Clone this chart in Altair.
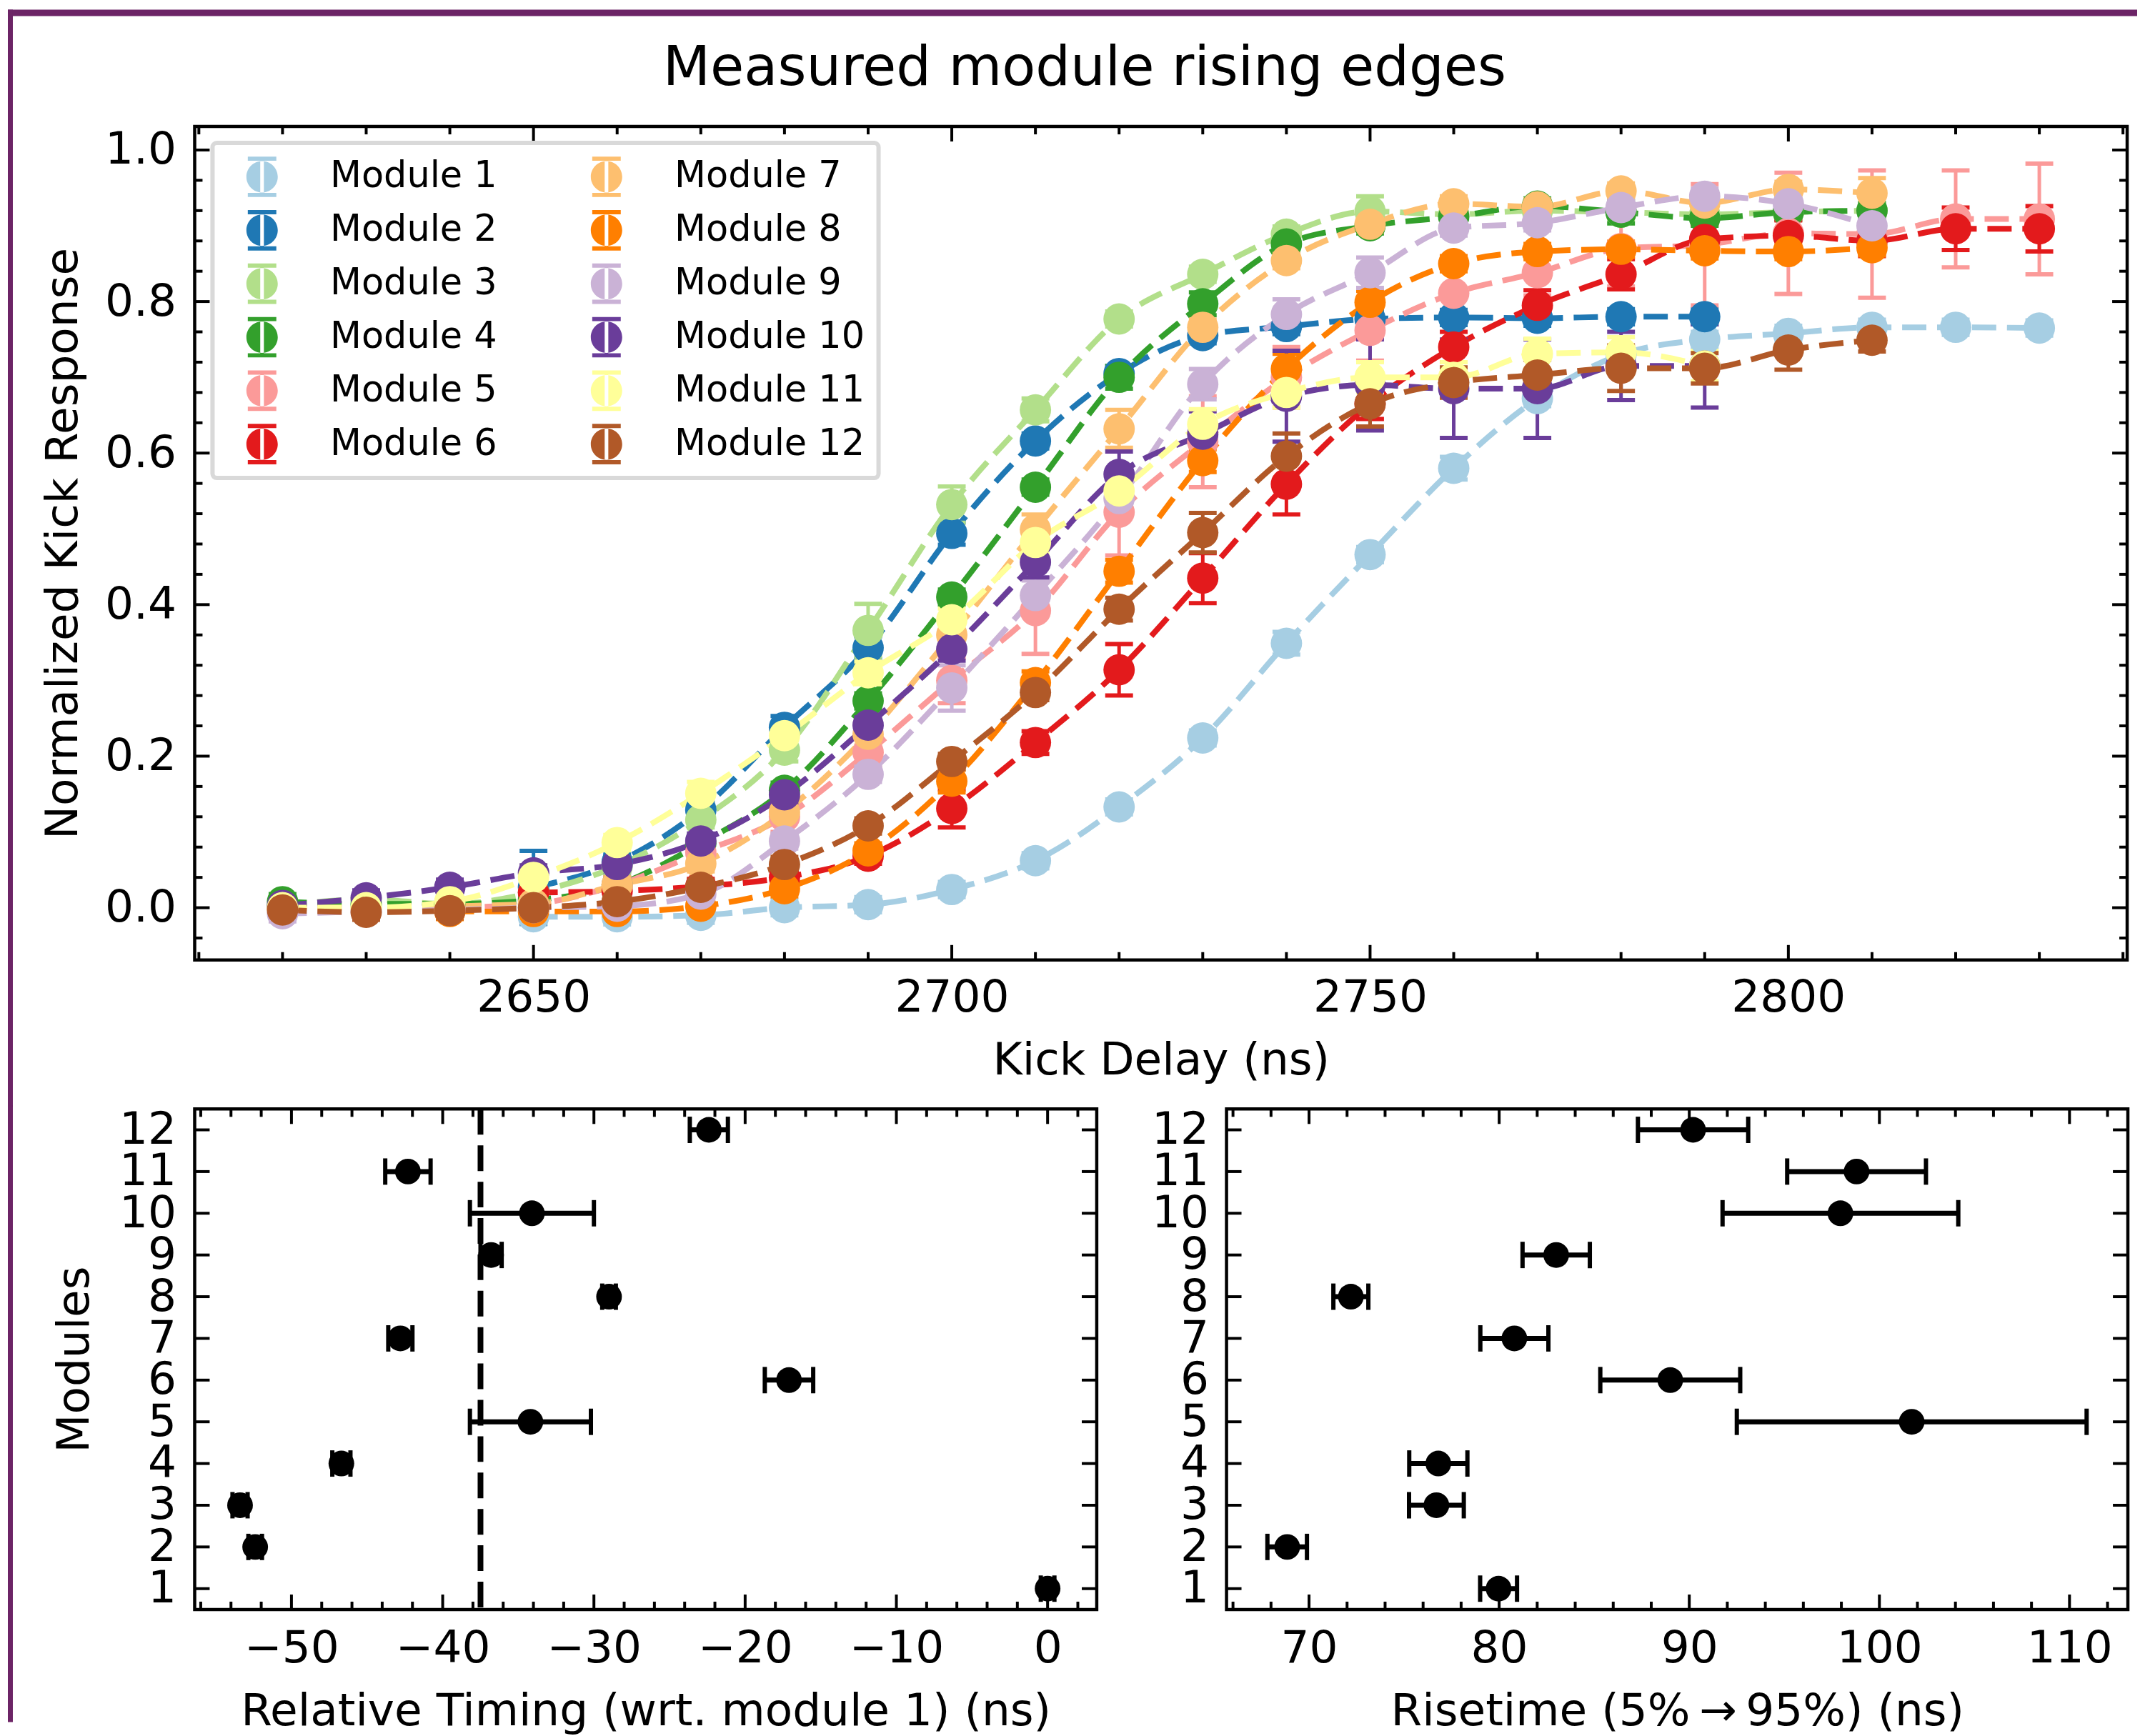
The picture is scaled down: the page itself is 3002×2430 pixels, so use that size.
import altair as alt
import pandas as pd

# ---------------- data ----------------
DELAY_NS = [2620, 2630, 2640, 2650, 2660, 2670, 2680, 2690, 2700, 2710, 2720,
            2730, 2740, 2750, 2760, 2770, 2780, 2790, 2800, 2810, 2820, 2830]
MODULES = ["Module 1", "Module 2", "Module 3", "Module 4", "Module 5", "Module 6",
           "Module 7", "Module 8", "Module 9", "Module 10", "Module 11", "Module 12"]
PAIRED = ["#a6cee3", "#1f78b4", "#b2df8a", "#33a02c", "#fb9a99", "#e31a1c",
          "#fdbf6f", "#ff7f00", "#cab2d6", "#6a3d9a", "#ffff99", "#b15928"]
TITLE = ["Measured module rising edges"]

RESP_M1 = [None, None, None, -0.012, -0.012, -0.01, 0.0, 0.004, 0.024, 0.062, 0.133,
           0.224, 0.349, 0.466, 0.580, 0.672, 0.730, 0.750, 0.758, 0.766, 0.766, 0.765]
RESP_M2 = [None, None, None, 0.027, 0.06, 0.129, 0.238, 0.343, 0.494, 0.616, 0.705,
           0.755, 0.767, 0.777, 0.779, 0.778, 0.780, 0.780, None, None, None, None]
RESP_M3 = [0.003, 0.011, 0.005, 0.02, 0.055, 0.116, 0.208, 0.366, 0.532, 0.657, 0.777,
           0.836, 0.889, 0.919, 0.915, 0.920, 0.918, 0.915, 0.918, 0.920, None, None]
RESP_M4 = [0.008, 0.005, 0.005, 0.01, 0.03, 0.085, 0.155, 0.273, 0.410, 0.555, 0.700,
           0.797, 0.876, 0.900, 0.912, 0.926, 0.918, 0.910, 0.918, 0.920, None, None]
RESP_M5 = [None, None, 0.0, 0.005, 0.03, 0.073, 0.12, 0.205, 0.30, 0.392, 0.522,
           0.615, 0.70, 0.762, 0.811, 0.838, 0.87, 0.875, 0.89, 0.889, 0.909, 0.909]
RESP_M6 = [None, None, None, 0.02, 0.022, 0.028, 0.04, 0.068, 0.131, 0.218, 0.314,
           0.435, 0.559, 0.665, 0.740, 0.795, 0.836, 0.882, 0.887, 0.88, 0.896, 0.896]
RESP_M7 = [0.0, 0.0, 0.002, 0.005, 0.03, 0.058, 0.126, 0.229, 0.36, 0.499, 0.632,
           0.766, 0.854, 0.902, 0.929, 0.925, 0.946, 0.93, 0.948, 0.943, None, None]
RESP_M8 = [None, None, -0.005, -0.005, -0.005, 0.002, 0.025, 0.075, 0.167, 0.297, 0.444,
           0.590, 0.711, 0.799, 0.850, 0.866, 0.869, 0.867, 0.866, 0.871, None, None]
RESP_M9 = [-0.008, -0.005, -0.003, 0.0, 0.002, 0.018, 0.088, 0.176, 0.290, 0.412, 0.54,
           0.691, 0.783, 0.838, 0.897, 0.904, 0.924, 0.939, 0.929, 0.900, None, None]
RESP_M10 = [0.003, 0.013, 0.027, 0.046, 0.057, 0.088, 0.149, 0.241, 0.341, 0.456, 0.572,
            0.625, 0.675, 0.69, 0.685, 0.685, 0.715, 0.715, None, None, None, None]
RESP_M11 = [0.0, 0.0, 0.008, 0.04, 0.086, 0.151, 0.227, 0.310, 0.380, 0.482, 0.550,
            0.638, 0.680, 0.700, 0.70, 0.731, 0.733, 0.715, None, None, None, None]
RESP_M12 = [-0.003, -0.006, -0.004, 0.0, 0.008, 0.027, 0.057, 0.108, 0.193, 0.284, 0.394,
            0.495, 0.596, 0.665, 0.693, 0.703, 0.712, 0.712, 0.736, 0.749, None, None]

ERR_M1 = [None, None, None, 0.01, 0.01, 0.01, 0.01, 0.01, 0.01, 0.01, 0.01,
          0.01, 0.015, 0.01, 0.015, 0.01, 0.01, 0.01, 0.01, 0.01, 0.01, 0.01]
ERR_M2 = [None, None, None, 0.048, 0.01, 0.01, 0.015, 0.015, 0.015, 0.01, 0.01,
          0.01, 0.01, 0.01, 0.01, 0.01, 0.01, 0.01, None, None, None, None]
ERR_M3 = [0.01, 0.01, 0.01, 0.01, 0.01, 0.01, 0.015, 0.035, 0.024, 0.015, 0.01,
          0.01, 0.01, 0.02, 0.01, 0.01, 0.01, 0.01, 0.01, 0.01, None, None]
ERR_M4 = [0.01, 0.01, 0.01, 0.01, 0.01, 0.01, 0.01, 0.01, 0.01, 0.01, 0.015,
          0.015, 0.01, 0.01, 0.01, 0.01, 0.015, 0.01, 0.01, 0.01, None, None]
ERR_M5 = [None, None, 0.01, 0.01, 0.01, 0.015, 0.02, 0.02, 0.03, 0.057, 0.057,
          0.06, 0.04, 0.04, 0.03, 0.03, 0.05, 0.08, 0.08, 0.084, 0.064, 0.073]
ERR_M6 = [None, None, None, 0.01, 0.01, 0.01, 0.01, 0.01, 0.025, 0.015, 0.034,
          0.033, 0.04, 0.02, 0.02, 0.02, 0.02, 0.02, 0.02, 0.02, 0.028, 0.03]
ERR_M7 = [0.01, 0.01, 0.01, 0.01, 0.01, 0.01, 0.01, 0.015, 0.015, 0.02, 0.025,
          0.01, 0.01, 0.01, 0.01, 0.01, 0.01, 0.015, 0.01, 0.02, None, None]
ERR_M8 = [None, None, 0.01, 0.01, 0.01, 0.01, 0.01, 0.01, 0.015, 0.015, 0.015,
          0.015, 0.02, 0.015, 0.01, 0.01, 0.01, 0.01, 0.01, 0.01, None, None]
ERR_M9 = [0.01, 0.01, 0.01, 0.01, 0.01, 0.01, 0.01, 0.01, 0.03, 0.02, 0.02,
          0.02, 0.02, 0.02, 0.01, 0.01, 0.01, 0.01, 0.01, 0.01, None, None]
ERR_M10 = [0.01, 0.01, 0.01, 0.01, 0.01, 0.01, 0.01, 0.01, 0.015, 0.02, 0.03,
           0.03, 0.06, 0.06, 0.065, 0.065, 0.045, 0.055, None, None, None, None]
ERR_M11 = [0.01, 0.01, 0.01, 0.01, 0.01, 0.015, 0.015, 0.015, 0.015, 0.015, 0.015,
           0.02, 0.02, 0.02, 0.02, 0.02, 0.02, 0.02, None, None, None, None]
ERR_M12 = [0.01, 0.01, 0.01, 0.01, 0.01, 0.01, 0.01, 0.01, 0.01, 0.01, 0.015,
           0.026, 0.03, 0.03, 0.02, 0.02, 0.03, 0.02, 0.026, 0.015, None, None]

MODULE_IDS = [1, 2, 3, 4, 5, 6, 7, 8, 9, 10, 11, 12]
TIMING = [0.0, -52.4, -53.4, -46.7, -34.2, -17.1, -42.8, -29.0, -36.8, -34.1, -42.3, -22.4]
TIMING_ERR = [0.45, 0.45, 0.5, 0.6, 4.0, 1.6, 0.8, 0.45, 0.7, 4.1, 1.5, 1.26]
RISETIME = [79.97, 68.85, 76.7, 76.8, 101.7, 89.0, 80.8, 72.2, 83.0, 97.95, 98.8, 90.2]
RISETIME_ERR = [0.97, 1.04, 1.44, 1.53, 9.2, 3.68, 1.79, 0.92, 1.77, 6.2, 3.65, 2.9]
TIMING_REF = [-37.5]

# tick positions
TOP_X_MAJOR = [2650, 2700, 2750, 2800]
TOP_X_MINOR = [2610, 2620, 2630, 2640, 2660, 2670, 2680, 2690, 2710, 2720, 2730, 2740,
               2760, 2770, 2780, 2790, 2810, 2820, 2830, 2840]
TOP_Y_MAJOR = [0.0, 0.2, 0.4, 0.6, 0.8, 1.0]
TOP_Y_MINOR = [-0.04, 0.04, 0.08, 0.12, 0.16, 0.24, 0.28, 0.32, 0.36, 0.44, 0.48, 0.52,
               0.56, 0.64, 0.68, 0.72, 0.76, 0.84, 0.88, 0.92, 0.96]
BL_X_MAJOR = [-50, -40, -30, -20, -10, 0]
BL_X_MINOR = [-56, -54, -52, -48, -46, -44, -42, -38, -36, -34, -32, -28, -26, -24,
              -22, -18, -16, -14, -12, -8, -6, -4, -2, 2]
BR_X_MAJOR = [70, 80, 90, 100, 110]
BR_X_MINOR = [66, 68, 72, 74, 76, 78, 82, 84, 86, 88, 92, 94, 96, 98, 102, 104, 106, 108, 112]

RESP = [RESP_M1, RESP_M2, RESP_M3, RESP_M4, RESP_M5, RESP_M6,
        RESP_M7, RESP_M8, RESP_M9, RESP_M10, RESP_M11, RESP_M12]
ERRS = [ERR_M1, ERR_M2, ERR_M3, ERR_M4, ERR_M5, ERR_M6,
        ERR_M7, ERR_M8, ERR_M9, ERR_M10, ERR_M11, ERR_M12]

rows = []
for i, (vals, errs) in enumerate(zip(RESP, ERRS)):
    for x, v, e in zip(DELAY_NS, vals, errs):
        if v is None:
            continue
        rows.append({"module": MODULES[i], "idx": i + 1, "delay": x, "resp": v,
                     "lo": v - e, "hi": v + e})
df = pd.DataFrame(rows)

bdf = pd.DataFrame({"module": MODULE_IDS, "t": TIMING, "r": RISETIME})
bdf["t_lo"] = [t - e for t, e in zip(TIMING, TIMING_ERR)]
bdf["t_hi"] = [t + e for t, e in zip(TIMING, TIMING_ERR)]
bdf["r_lo"] = [r - e for r, e in zip(RISETIME, RISETIME_ERR)]
bdf["r_hi"] = [r + e for r, e in zip(RISETIME, RISETIME_ERR)]

FRAME = "#6c2466"
FS = 63
# legend glyph: marker with error-bar caps (unit square -1..1)
ERRBAR_GLYPH = ("M -0.775 0 A 0.775 0.775 0 1 0 0.775 0 A 0.775 0.775 0 1 0 -0.775 0 Z "
                "M -0.704 -1 L 0.704 -1 L 0.704 -0.79 L -0.704 -0.79 Z "
                "M -0.704 0.79 L 0.704 0.79 L 0.704 1 L -0.704 1 Z "
                "M -0.09 -0.8 L 0.09 -0.8 L 0.09 0.8 L -0.09 0.8 Z")

def frame_ticks(values, channel, scale, axis, W, H, length):
    c = alt.Chart(pd.DataFrame({"v": values}))
    m = dict(color="black", strokeWidth=4)
    if channel == "x":
        enc = alt.X("v:Q", scale=scale, axis=axis)
        return [c.mark_rule(**m).encode(x=enc, y=alt.value(H), y2=alt.value(H - length)),
                c.mark_rule(**m).encode(x=enc, y=alt.value(0), y2=alt.value(length))]
    enc = alt.Y("v:Q", scale=scale, axis=axis)
    return [c.mark_rule(**m).encode(y=enc, x=alt.value(0), x2=alt.value(length)),
            c.mark_rule(**m).encode(y=enc, x=alt.value(W), x2=alt.value(W - length))]

def band(x0, x1, y0, y1):
    return alt.Chart(pd.DataFrame({"k": [0]})).mark_rect(color=FRAME).encode(
        x=alt.value(x0), x2=alt.value(x1), y=alt.value(y0), y2=alt.value(y1))

# ---------------- top panel ----------------
TW, TH = 2710, 1169
xs = alt.Scale(domain=[2609.5, 2840.5], nice=False, zero=False)
ys = alt.Scale(domain=[-0.069, 1.031], nice=False, zero=False)
cs = alt.Scale(domain=MODULES, range=PAIRED)
TOP_XAX = alt.Axis(values=TOP_X_MAJOR, format="d", title="Kick Delay (ns)",
                   labelPadding=22, titlePadding=25)
TOP_YAX = alt.Axis(values=TOP_Y_MAJOR, format=".1f", title="Normalized Kick Response",
                   labelPadding=26, titlePadding=26)

base = alt.Chart(df)
layers = [band(-262, 2724, -164, -155), band(-262, -255, -164, 1375)]
layers.append(alt.Chart(pd.DataFrame({"title": TITLE})).mark_text(
    fontSize=77, font="DejaVu Sans", align="center", baseline="alphabetic", color="black"
).encode(text="title:N", x=alt.value(1248), y=alt.value(-58)))
for i, name in enumerate(MODULES):
    sub = base.transform_filter(alt.datum.module == name)
    col = PAIRED[i]
    X = alt.X("delay:Q", scale=xs, axis=TOP_XAX)
    layers.append(sub.mark_rule(color=col, strokeWidth=5).encode(
        x=X, y=alt.Y("lo:Q", scale=ys, axis=TOP_YAX), y2="hi:Q"))
    layers.append(sub.mark_tick(color=col, orient="horizontal", size=39, thickness=6,
                                opacity=1).encode(
        x=X, y=alt.Y("lo:Q", scale=ys, axis=TOP_YAX)))
    layers.append(sub.mark_tick(color=col, orient="horizontal", size=39, thickness=6,
                                opacity=1).encode(
        x=X, y=alt.Y("hi:Q", scale=ys, axis=TOP_YAX)))
    layers.append(sub.mark_line(color=col, strokeWidth=8, strokeDash=[34, 15],
                                interpolate="monotone").encode(
        x=X, y=alt.Y("resp:Q", scale=ys, axis=TOP_YAX)))

points = base.mark_point(filled=True, size=1936, opacity=1, strokeWidth=0).encode(
    x=alt.X("delay:Q", scale=xs, axis=TOP_XAX),
    y=alt.Y("resp:Q", scale=ys, axis=TOP_YAX),
    color=alt.Color("module:N", scale=cs,
                    legend=alt.Legend(title=None, orient="none", legendX=25, legendY=23,
                                      values=MODULES, columns=2,
                                      symbolType=ERRBAR_GLYPH, symbolSize=3226,
                                      symbolStrokeWidth=0, symbolOpacity=1,
                                      labelFontSize=51, labelColor="black", labelLimit=0,
                                      padding=19, symbolOffset=22, labelOffset=67,
                                      rowPadding=18, columnPadding=102,
                                      fillColor="white", strokeColor="#d9d9d9",
                                      cornerRadius=6)),
    order=alt.Order("idx:Q"),
)
layers.append(points)
layers += frame_ticks(TOP_X_MAJOR, "x", xs, TOP_XAX, TW, TH, 21)
layers += frame_ticks(TOP_X_MINOR, "x", xs, TOP_XAX, TW, TH, 11)
layers += frame_ticks(TOP_Y_MAJOR, "y", ys, TOP_YAX, TW, TH, 21)
layers += frame_ticks(TOP_Y_MINOR, "y", ys, TOP_YAX, TW, TH, 11)

top = alt.layer(*layers).properties(width=TW, height=TH)

# ---------------- bottom panels ----------------
BW, BH = 1265, 702
rows_scale = alt.Scale(domain=[0.5, 12.5], nice=False, zero=False)
bl_x = alt.Scale(domain=[-56.4, 3.25], nice=False, zero=False)
br_x = alt.Scale(domain=[65.66, 113.07], nice=False, zero=False)
bb = alt.Chart(bdf)
minus = "replace(datum.label, '-', '\u2212')"
BL_XAX = alt.Axis(values=BL_X_MAJOR, labelExpr=minus,
                  title="Relative Timing (wrt. module 1) (ns)",
                  labelPadding=24, titlePadding=25)
BL_YAX = alt.Axis(values=MODULE_IDS, format="d", title="Modules",
                  labelPadding=26, titlePadding=30)
BR_XAX = alt.Axis(values=BR_X_MAJOR, format="d",
                  title="Risetime (5%\u2009\u2192\u200995%) (ns)",
                  labelPadding=24, titlePadding=25)
BR_YAX = alt.Axis(values=MODULE_IDS, format="d", title=None, labelPadding=25)

bl_layers = [band(-262, -255, -5, 860)]
bl_layers.append(alt.Chart(pd.DataFrame({"ref": TIMING_REF})).mark_rule(
    color="black", strokeWidth=8, strokeDash=[36, 15]).encode(
    x=alt.X("ref:Q", scale=bl_x, axis=BL_XAX)))
bl_layers.append(bb.mark_rule(color="black", strokeWidth=7).encode(
    x=alt.X("t_lo:Q", scale=bl_x, axis=BL_XAX), x2="t_hi:Q",
    y=alt.Y("module:Q", scale=rows_scale, axis=BL_YAX)))
for fld in ["t_lo", "t_hi"]:
    bl_layers.append(bb.mark_tick(color="black", orient="vertical", size=37, thickness=6,
                                  opacity=1).encode(
        x=alt.X(f"{fld}:Q", scale=bl_x, axis=BL_XAX),
        y=alt.Y("module:Q", scale=rows_scale, axis=BL_YAX)))
bl_layers.append(bb.mark_point(filled=True, size=1296, opacity=1, color="black",
                               strokeWidth=0).encode(
    x=alt.X("t:Q", scale=bl_x, axis=BL_XAX),
    y=alt.Y("module:Q", scale=rows_scale, axis=BL_YAX)))
bl_layers += frame_ticks(BL_X_MAJOR, "x", bl_x, BL_XAX, BW, BH, 21)
bl_layers += frame_ticks(BL_X_MINOR, "x", bl_x, BL_XAX, BW, BH, 11)
bl_layers += frame_ticks(MODULE_IDS, "y", rows_scale, BL_YAX, BW, BH, 21)
bottom_left = alt.layer(*bl_layers).properties(width=BW, height=BH)

br_layers = []
br_layers.append(bb.mark_rule(color="black", strokeWidth=7).encode(
    x=alt.X("r_lo:Q", scale=br_x, axis=BR_XAX), x2="r_hi:Q",
    y=alt.Y("module:Q", scale=rows_scale, axis=BR_YAX)))
for fld in ["r_lo", "r_hi"]:
    br_layers.append(bb.mark_tick(color="black", orient="vertical", size=37, thickness=6,
                                  opacity=1).encode(
        x=alt.X(f"{fld}:Q", scale=br_x, axis=BR_XAX),
        y=alt.Y("module:Q", scale=rows_scale, axis=BR_YAX)))
br_layers.append(bb.mark_point(filled=True, size=1296, opacity=1, color="black",
                               strokeWidth=0).encode(
    x=alt.X("r:Q", scale=br_x, axis=BR_XAX),
    y=alt.Y("module:Q", scale=rows_scale, axis=BR_YAX)))
br_layers += frame_ticks(BR_X_MAJOR, "x", br_x, BR_XAX, 1264, BH, 21)
br_layers += frame_ticks(BR_X_MINOR, "x", br_x, BR_XAX, 1264, BH, 11)
br_layers += frame_ticks(MODULE_IDS, "y", rows_scale, BR_YAX, 1264, BH, 21)
bottom_right = alt.layer(*br_layers).properties(width=1264, height=BH)

chart = alt.vconcat(
    top,
    alt.hconcat(bottom_left, bottom_right, spacing=69),
    spacing=-8,
).properties(padding=0).configure(font="DejaVu Sans").configure_view(
    stroke="black", strokeWidth=4.5
).configure_axis(
    labelFontSize=FS, titleFontSize=FS, labelColor="black", titleColor="black",
    titleFontWeight="normal", grid=False, ticks=False, domain=False,
    labelFlush=False, labelOverlap=False
).configure_legend(strokeWidth=6)

chart.save("out.html", embed_options={"renderer": "svg", "actions": False})
